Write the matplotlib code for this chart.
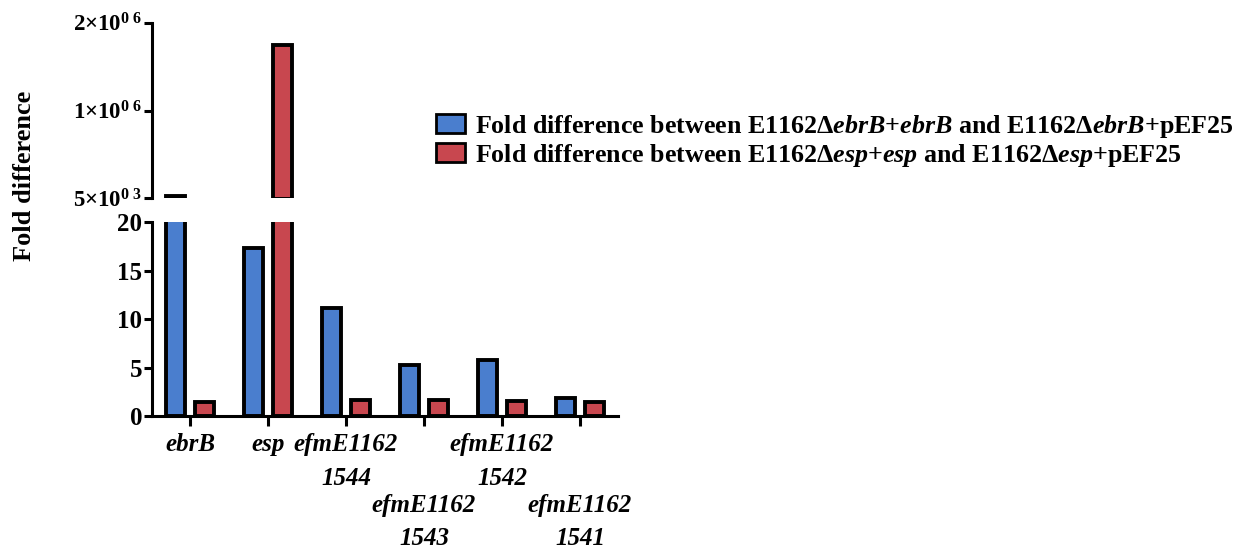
import matplotlib
matplotlib.use("Agg")
import matplotlib.pyplot as plt
import matplotlib.transforms as mtransforms
import numpy as np
from matplotlib.patches import Patch

plt.rcParams['font.family'] = ['Liberation Serif', 'DejaVu Serif']
plt.rcParams['font.weight'] = 'bold'
plt.rcParams['mathtext.fontset'] = 'custom'
plt.rcParams['mathtext.rm'] = 'Liberation Serif:bold'
plt.rcParams['mathtext.it'] = 'Liberation Serif:bold:italic'
plt.rcParams['mathtext.bf'] = 'Liberation Serif:bold'

genes = ['ebrB', 'esp', 'efmE1162\n1544', 'efmE1162\n1543', 'efmE1162\n1542', 'efmE1162\n1541']
stagger = [False, False, False, True, False, True]
ebrB_fold = [35000, 17.3, 11.15, 5.3, 5.81, 1.86]
esp_fold = [1.45, 1.743e6, 1.68, 1.62, 1.52, 1.44]
low_ticks = [0, 5, 10, 15, 20]
up_ticks = [5e3, 1e6, 2e6]
up_labels = ['5×10$^{0\\ 3}$', '1×10$^{0\\ 6}$', '2×10$^{0\\ 6}$']
legend_labels = [
    'Fold difference between E1162Δ$\\mathit{ebrB}$+$\\mathit{ebrB}$ and E1162Δ$\\mathit{ebrB}$+pEF25',
    'Fold difference between E1162Δ$\\mathit{esp}$+$\\mathit{esp}$ and E1162Δ$\\mathit{esp}$+pEF25',
]

blue = '#4A7ECE'
red = '#C8474F'
lw = 2.2
edge_lw = 2.8

fig = plt.figure(figsize=(12.47, 5.52), dpi=100)
left, width = 0.1217, 0.374
ax_lo = fig.add_axes([left, 0.2464, width, 0.3509])
ax_up = fig.add_axes([left, 0.6408, width, 0.3181])

up_min, up_max = 5e3, 2e6
x = np.arange(len(genes))
off = 0.185
bw = 0.235

# lower segment
ax_lo.bar(x - off, ebrB_fold, bw, color=blue, edgecolor='black', linewidth=edge_lw)
ax_lo.bar(x + off, esp_fold, bw, color=red, edgecolor='black', linewidth=edge_lw)
# upper segment: only bars reaching into it
for vals, dx, col in ((ebrB_fold, -off, blue), (esp_fold, off, red)):
    idx = [i for i, v in enumerate(vals) if v > up_min]
    ax_up.bar([x[i] + dx for i in idx], [vals[i] for i in idx], bw,
              color=col, edgecolor='black', linewidth=edge_lw)

for ax in (ax_lo, ax_up):
    ax.set_xlim(-0.49, 5.49)
    ax.spines['top'].set_visible(False)
    ax.spines['right'].set_visible(False)
    ax.spines['left'].set_linewidth(lw)
    ax.spines['bottom'].set_linewidth(lw)
    ax.tick_params(axis='y', direction='out', length=6, width=lw, pad=1)

ax_lo.set_ylim(0, 20)
ax_lo.set_yticks(low_ticks)
ax_lo.set_yticklabels([str(t) for t in low_ticks], fontsize=18, fontweight='bold')
ax_lo.set_xticks(x)
ax_lo.set_xticklabels([])
ax_lo.tick_params(axis='x', direction='out', length=7, width=lw)

ax_up.set_ylim(up_min, up_max)
ax_up.set_yticks(up_ticks)
ax_up.set_yticklabels(up_labels, fontsize=16.5, fontweight='bold')
ax_up.spines['bottom'].set_visible(False)
ax_up.set_xticks([])

base = mtransforms.blended_transform_factory(ax_lo.transData, ax_lo.transAxes)
fig_bottom = mtransforms.blended_transform_factory(ax_lo.transData, fig.transFigure)
for i, g in enumerate(genes):
    if stagger[i]:
        tr = fig_bottom + mtransforms.ScaledTranslation(0, 1.5 / 72, fig.dpi_scale_trans)
        ax_lo.text(i, 0, g, transform=tr, ha='center', va='bottom',
                   fontsize=18, fontweight='bold', fontstyle='italic', linespacing=1.55)
    else:
        tr = base + mtransforms.ScaledTranslation(0, -12.5 / 72, fig.dpi_scale_trans)
        ax_lo.text(i, 0, g, transform=tr, ha='center', va='top',
                   fontsize=18, fontweight='bold', fontstyle='italic', linespacing=1.6)

fig.text(0.020, 0.681, 'Fold difference', rotation=90, ha='center', va='center',
         fontsize=19, fontweight='bold')

handles = [Patch(facecolor=blue, edgecolor='black', linewidth=2),
           Patch(facecolor=red, edgecolor='black', linewidth=2)]
fig.legend(handles, legend_labels, loc='upper left', bbox_to_anchor=(0.350, 0.796),
           frameon=False, prop={'weight': 'bold', 'size': 18.7},
           handlelength=1.08, handleheight=0.78, handletextpad=0.4,
           borderpad=0, borderaxespad=0, labelspacing=0.08)

fig.savefig('out.png', dpi=100)
